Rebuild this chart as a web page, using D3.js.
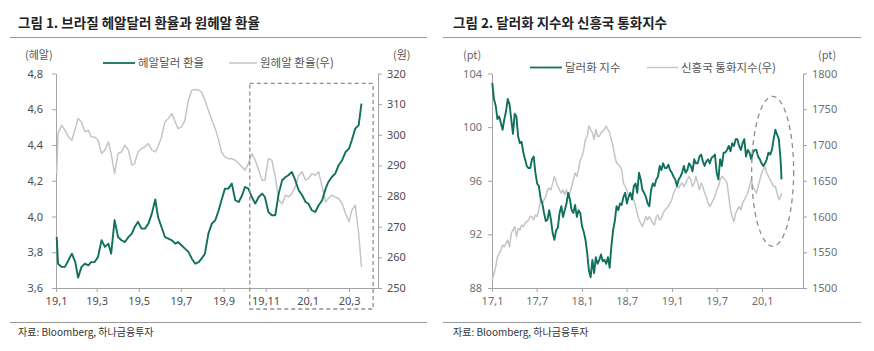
<!DOCTYPE html>
<html>
<head>
<meta charset="utf-8">
<script src="https://cdn.jsdelivr.net/npm/d3@7"></script>
<style>
  body { margin: 0; background: #fff; }
  svg text { font-family: "Noto Sans CJK KR", "Noto Sans", sans-serif; }
</style>
</head>
<body>
<svg id="chart" width="874" height="351"></svg>
<script>
// ---- 그림 1: 헤알달러 환율 (좌) / 원헤알 환율 (우) ----
const brlDates = [
  "2019-01-02","2019-01-04","2019-01-09","2019-01-14","2019-01-19","2019-01-24","2019-01-29",
  "2019-02-02","2019-02-07","2019-02-12","2019-02-17","2019-02-21","2019-02-26",
  "2019-03-03","2019-03-08","2019-03-13","2019-03-18","2019-03-22","2019-03-27",
  "2019-04-01","2019-04-06","2019-04-11","2019-04-16","2019-04-21","2019-04-25","2019-04-30",
  "2019-05-05","2019-05-10","2019-05-15","2019-05-20","2019-05-25","2019-05-29",
  "2019-06-03","2019-06-08","2019-06-13","2019-06-18","2019-06-23","2019-06-27",
  "2019-07-02","2019-07-07","2019-07-12","2019-07-17","2019-07-22","2019-07-27","2019-07-31",
  "2019-08-05","2019-08-10","2019-08-15","2019-08-20","2019-08-25","2019-08-29",
  "2019-09-03","2019-09-08","2019-09-13","2019-09-18","2019-09-23","2019-09-28",
  "2019-10-02","2019-10-07","2019-10-12","2019-10-17","2019-10-22","2019-10-27","2019-10-31",
  "2019-11-05","2019-11-10","2019-11-15","2019-11-20","2019-11-25","2019-11-30",
  "2019-12-04","2019-12-09","2019-12-14","2019-12-19","2019-12-24","2019-12-29",
  "2020-01-02","2020-01-07","2020-01-12","2020-01-17","2020-01-22","2020-01-27","2020-01-31",
  "2020-02-05","2020-02-10","2020-02-15","2020-02-20","2020-02-25",
  "2020-03-01","2020-03-05","2020-03-10","2020-03-15","2020-03-19"
];
const brlUsd = [
  3.885, 3.736, 3.718, 3.718, 3.755, 3.792, 3.745, 3.658, 3.718, 3.736,
  3.727, 3.745, 3.745, 3.774, 3.867, 3.830, 3.848, 3.792, 3.980, 3.885,
  3.867, 3.857, 3.885, 3.904, 3.941, 3.970, 3.932, 3.932, 3.960, 4.016,
  4.095, 3.997, 3.941, 3.885, 3.876, 3.867, 3.848, 3.857, 3.839, 3.820,
  3.802, 3.764, 3.736, 3.745, 3.764, 3.792, 3.904, 3.960, 3.979, 4.035,
  4.091, 4.156, 4.156, 4.184, 4.091, 4.081, 4.119, 4.165, 4.156, 4.109,
  4.072, 4.109, 4.128, 4.109, 4.025, 4.007, 4.007, 4.128, 4.203, 4.221,
  4.231, 4.249, 4.203, 4.147, 4.119, 4.081, 4.072, 4.035, 4.025, 4.063,
  4.091, 4.156, 4.193, 4.221, 4.240, 4.287, 4.315, 4.361, 4.380, 4.427,
  4.492, 4.511, 4.632
];
const krwBrl = [
  287.3, 300.4, 303.1, 301.5, 299.3, 298.2, 302.0, 305.3, 304.2, 301.0,
  301.5, 299.3, 299.3, 298.2, 293.9, 295.0, 297.7, 293.9, 287.3, 293.9,
  294.4, 296.6, 295.0, 290.1, 290.6, 294.4, 295.5, 296.1, 297.1, 295.0,
  294.4, 296.1, 299.3, 304.2, 305.3, 306.9, 304.2, 302.0, 302.6, 304.8,
  311.3, 314.6, 314.8, 314.6, 314.0, 311.3, 308.0, 304.8, 302.0, 298.2,
  294.4, 292.8, 292.2, 292.2, 291.7, 290.6, 289.5, 288.4, 290.6, 293.9,
  291.7, 288.4, 285.2, 285.2, 292.2, 291.7, 286.3, 278.6, 277.5, 280.3,
  279.7, 280.8, 283.0, 286.8, 287.9, 285.2, 285.7, 287.3, 286.8, 287.9,
  283.0, 278.1, 279.2, 280.3, 279.7, 279.2, 277.5, 274.3, 271.6, 275.4,
  277.0, 267.7, 256.9
];
const brlTickDates = ["2019-01-01","2019-03-01","2019-05-01","2019-07-01","2019-09-01","2019-11-01","2020-01-01","2020-03-01"];
const brlTickLabels = ["19,1","19,3","19,5","19,7","19,9","19,11","20,1","20,3"];
const brlTicks = [3.6, 3.8, 4.0, 4.2, 4.4, 4.6, 4.8];
const krwTicks = [250, 260, 270, 280, 290, 300, 310, 320];

// ---- 그림 2: 달러화 지수 (좌) / 신흥국 통화지수 (우) ----
const dxyDates = [
  "2017-01-02","2017-01-09","2017-01-16","2017-01-23","2017-01-30",
  "2017-02-06","2017-02-13","2017-02-20","2017-02-27",
  "2017-03-06","2017-03-13","2017-03-20","2017-03-27",
  "2017-04-03","2017-04-10","2017-04-17","2017-04-24",
  "2017-05-01","2017-05-08","2017-05-15","2017-05-22","2017-05-29",
  "2017-06-05","2017-06-12","2017-06-19","2017-06-26",
  "2017-07-03","2017-07-10","2017-07-17","2017-07-24","2017-07-31",
  "2017-08-07","2017-08-14","2017-08-21","2017-08-28",
  "2017-09-04","2017-09-11","2017-09-18","2017-09-25",
  "2017-10-02","2017-10-09","2017-10-16","2017-10-23","2017-10-30",
  "2017-11-06","2017-11-13","2017-11-20","2017-11-27",
  "2017-12-04","2017-12-11","2017-12-18","2017-12-25",
  "2018-01-01","2018-01-08","2018-01-15","2018-01-22","2018-01-29",
  "2018-02-05","2018-02-12","2018-02-19","2018-02-26",
  "2018-03-05","2018-03-12","2018-03-19","2018-03-26",
  "2018-04-02","2018-04-09","2018-04-16","2018-04-23","2018-04-30",
  "2018-05-07","2018-05-14","2018-05-21","2018-05-28",
  "2018-06-04","2018-06-11","2018-06-18","2018-06-25",
  "2018-07-02","2018-07-09","2018-07-16","2018-07-23","2018-07-30",
  "2018-08-06","2018-08-13","2018-08-20","2018-08-27",
  "2018-09-03","2018-09-10","2018-09-17","2018-09-24",
  "2018-10-01","2018-10-08","2018-10-15","2018-10-22","2018-10-29",
  "2018-11-05","2018-11-12","2018-11-19","2018-11-26",
  "2018-12-03","2018-12-10","2018-12-17","2018-12-24","2018-12-31",
  "2019-01-07","2019-01-14","2019-01-21","2019-01-28",
  "2019-02-04","2019-02-11","2019-02-18","2019-02-25",
  "2019-03-04","2019-03-11","2019-03-18","2019-03-25",
  "2019-04-01","2019-04-08","2019-04-15","2019-04-22","2019-04-29",
  "2019-05-06","2019-05-13","2019-05-20","2019-05-27",
  "2019-06-03","2019-06-10","2019-06-17","2019-06-24",
  "2019-07-01","2019-07-08","2019-07-15","2019-07-22","2019-07-29",
  "2019-08-05","2019-08-12","2019-08-19","2019-08-26",
  "2019-09-02","2019-09-09","2019-09-16","2019-09-23","2019-09-30",
  "2019-10-07","2019-10-14","2019-10-21","2019-10-28",
  "2019-11-04","2019-11-11","2019-11-18","2019-11-25",
  "2019-12-02","2019-12-09","2019-12-16","2019-12-23","2019-12-30",
  "2020-01-06","2020-01-13","2020-01-20","2020-01-27",
  "2020-02-03","2020-02-10","2020-02-17","2020-02-24",
  "2020-03-02","2020-03-09","2020-03-16","2020-03-20"
];
const dxyIndex = [
  103.3, 102.1, 101.6, 100.6, 100.8, 100.3, 99.8, 100.6, 101.2, 102.1,
  101.7, 100.6, 99.5, 101.0, 100.8, 99.3, 98.8, 98.9, 98.1, 97.6,
  97.1, 96.95, 96.95, 97.6, 97.8, 96.6, 95.8, 95.6, 94.7, 94.3,
  93.6, 93.0, 93.1, 93.8, 93.1, 92.1, 91.6, 92.3, 92.5, 93.6,
  94.1, 93.3, 93.8, 94.3, 95.1, 94.6, 93.8, 93.6, 94.2, 93.3,
  93.8, 93.6, 92.6, 92.2, 91.6, 90.6, 89.3, 88.8, 90.1, 89.1,
  90.3, 89.8, 90.1, 90.5, 90.0, 90.1, 89.8, 90.3, 89.5, 91.1,
  92.3, 93.0, 94.1, 93.8, 94.3, 94.2, 94.8, 95.1, 94.3, 94.8,
  95.1, 94.6, 95.6, 95.8, 95.1, 96.6, 96.1, 95.3, 95.1, 94.8,
  94.3, 94.1, 95.3, 95.8, 95.6, 96.1, 96.3, 97.1, 96.8, 97.3,
  96.95, 96.95, 97.2, 96.8, 96.6, 96.3, 96.1, 95.6, 96.1, 96.3,
  96.6, 97.1, 96.6, 96.8, 97.3, 97.1, 96.7, 97.6, 97.3, 97.3,
  97.8, 97.95, 97.45, 97.1, 97.45, 97.6, 97.3, 97.7, 97.8, 97.95,
  96.6, 96.1, 97.6, 97.1, 98.1, 98.1, 98.3, 98.6, 98.2, 98.8,
  98.6, 99.1, 99.1, 98.6, 98.3, 98.8, 99.1, 97.8, 98.3, 98.1,
  97.6, 98.1, 98.3, 98.3, 97.8, 97.6, 97.3, 97.1, 97.3, 97.6,
  98.1, 97.95, 98.3, 99.1, 99.8, 99.45, 99.1, 97.6, 96.1
];
const emCurrency = [
  1510.8, 1520, 1529.5, 1543.6, 1548.3, 1553, 1560, 1557.7, 1562.3, 1567,
  1557.7, 1576.4, 1581, 1585.8, 1571.7, 1583.4, 1581, 1588, 1585.8, 1590.5,
  1592.8, 1595.2, 1600, 1600, 1595.2, 1602.2, 1600, 1609.2, 1623.3, 1618.6,
  1623.3, 1628, 1637.3, 1639.7, 1637.3, 1646.7, 1656.1, 1649, 1642, 1637.3,
  1632.7, 1637.3, 1630.3, 1637.3, 1628, 1632.7, 1642, 1651.4, 1660.8, 1656.1,
  1665.5, 1679.5, 1684.2, 1693.6, 1707.7, 1712.3, 1726.4, 1721.7, 1717, 1707.7,
  1721.7, 1712.3, 1712.3, 1717, 1719.4, 1721.7, 1726.4, 1721.7, 1717, 1707.7,
  1698.3, 1684.2, 1674.8, 1672.5, 1670.2, 1665.5, 1646.7, 1642, 1637.3, 1628,
  1630.3, 1628, 1623.3, 1613.9, 1604.5, 1595.2, 1590.5, 1585.8, 1592.8, 1600,
  1595.2, 1600, 1595.2, 1590.5, 1588, 1600, 1602.2, 1595.2, 1597.5, 1604.5,
  1609.2, 1611.6, 1613.9, 1618.6, 1623.3, 1632.7, 1637.3, 1642, 1639.7, 1644.4,
  1646.7, 1642, 1646.7, 1651.4, 1656.1, 1651.4, 1642, 1646.7, 1656.1, 1646.7,
  1637.3, 1646.7, 1642, 1632.7, 1628, 1618.6, 1613.9, 1618.6, 1623.3, 1628,
  1637.3, 1642, 1651.4, 1656.1, 1653.8, 1651.4, 1646.7, 1628, 1609.2, 1600,
  1592.8, 1604.5, 1609.2, 1613.9, 1609.2, 1618.6, 1623.3, 1628, 1632.7, 1642,
  1651.4, 1642, 1637.3, 1632.7, 1642, 1651.4, 1660.8, 1665.5, 1670, 1660.8,
  1656.1, 1651.4, 1646.7, 1642, 1642, 1632.7, 1623.3, 1628, 1632.7
];
const dxyTickDates = ["2017-01-01","2017-07-01","2018-01-01","2018-07-01","2019-01-01","2019-07-01","2020-01-01"];
const dxyTickLabels = ["17,1","17,7","18,1","18,7","19,1","19,7","20,1"];
const dxyTicks = [88, 92, 96, 100, 104];
const emTicks = [1500, 1550, 1600, 1650, 1700, 1750, 1800];

const parse = d3.timeParse("%Y-%m-%d");
const svg = d3.select("#chart");
const teal = "#10705d";
const grey = "#c5c5c5";
const axisColor = "#a3a3a3";

function drawPanel(p) {
    const x = d3.scaleTime()
        .domain([parse(p.start), parse(p.end)])
        .range([p.left, p.right]);
    const yL = d3.scaleLinear().domain(p.leftDomain).range([288, 73.5]);
    const yR = d3.scaleLinear().domain(p.rightDomain).range([288, 73.5]);

    const fmtComma = d => d3.format(p.leftFormat)(d).replace(".", ",");

    const gx = svg.append("g")
        .attr("transform", "translate(0,288)")
        .call(d3.axisBottom(x)
            .tickValues(p.tickDates.map(parse))
            .tickFormat((d, i) => p.tickLabels[i])
            .tickSize(4).tickSizeOuter(0).tickPadding(5));
    const gl = svg.append("g")
        .attr("transform", "translate(" + p.left + ",0)")
        .call(d3.axisLeft(yL).tickValues(p.leftTicks).tickFormat(fmtComma)
            .tickSize(4).tickSizeOuter(0).tickPadding(p.padL));
    const gr = svg.append("g")
        .attr("transform", "translate(" + p.right + ",0)")
        .call(d3.axisRight(yR).tickValues(p.rightTicks).tickFormat(d3.format("d"))
            .tickSize(4).tickSizeOuter(0).tickPadding(5));

    [gx, gl, gr].forEach(g => {
        g.select(".domain").attr("stroke", axisColor);
        g.selectAll(".tick line").attr("stroke", axisColor);
        g.selectAll("text")
            .style("font-family", "'Noto Sans', sans-serif")
            .style("font-size", "11px")
            .attr("fill", p.labelColor);
    });

    const dates = p.dates.map(parse);
    const lineR = d3.line().x((d, i) => x(dates[i])).y(d => yR(d));
    const lineL = d3.line().x((d, i) => x(dates[i])).y(d => yL(d));

    svg.append("path")
        .datum(p.rightValues)
        .attr("d", lineR)
        .attr("fill", "none")
        .attr("stroke", grey)
        .attr("stroke-width", 1.5)
        .attr("stroke-linejoin", "round");
    svg.append("path")
        .datum(p.leftValues)
        .attr("d", lineL)
        .attr("fill", "none")
        .attr("stroke", teal)
        .attr("stroke-width", 1.9)
        .attr("stroke-linejoin", "round");

    return {x, yL, yR};
}

function addText(x, y, txt, size, color, weight) {
    return svg.append("text")
        .attr("x", x).attr("y", y)
        .attr("font-size", size)
        .attr("fill", color)
        .attr("font-weight", weight || "normal")
        .text(txt);
}

function addLegend(x, y, w, color, label, width) {
    svg.append("line")
        .attr("x1", x).attr("x2", x + w)
        .attr("y1", y).attr("y2", y)
        .attr("stroke", color).attr("stroke-width", width);
    addText(x + w + 3, y + 4, label, 11.5, "#555");
}

// ----- panel 1 -----
const p1 = drawPanel({
    start: "2019-01-01", end: "2020-04-12", left: 56, right: 378,
    leftDomain: [3.6, 4.8], rightDomain: [250, 320],
    leftTicks: brlTicks, rightTicks: krwTicks, leftFormat: ".1f", padL: 9,
    tickDates: brlTickDates, tickLabels: brlTickLabels,
    dates: brlDates, leftValues: brlUsd, rightValues: krwBrl,
    labelColor: "#4d4d4d"
});

// dashed box around the recent period
const bx0 = p1.x(parse("2019-10-09")), bx1 = p1.x(parse("2020-04-05"));
svg.append("rect")
    .attr("x", bx0).attr("y", p1.yL(4.745))
    .attr("width", bx1 - bx0).attr("height", 309 - p1.yL(4.745))
    .attr("fill", "none").attr("stroke", "#8e8e8e")
    .attr("stroke-width", 1.3).attr("stroke-dasharray", "4,3");

// ----- panel 2 -----
const p2 = drawPanel({
    start: "2017-01-01", end: "2020-06-15", left: 492, right: 803,
    leftDomain: [88, 104], rightDomain: [1500, 1800],
    leftTicks: dxyTicks, rightTicks: emTicks, leftFormat: "d", padL: 6,
    tickDates: dxyTickDates, tickLabels: dxyTickLabels,
    dates: dxyDates, leftValues: dxyIndex, rightValues: emCurrency,
    labelColor: "#707070"
});

svg.append("ellipse")
    .attr("cx", p2.x(parse("2020-02-13")))
    .attr("cy", p2.yL(96.7))
    .attr("rx", 21).attr("ry", 75)
    .attr("fill", "none").attr("stroke", "#8e8e8e")
    .attr("stroke-width", 1.3).attr("stroke-dasharray", "5,4");

// titles and rules
addText(18, 28, "그림 1. 브라질 헤알달러 환율과 원헤알 환율", 13.5, "#222", "bold");
addText(453, 28, "그림 2. 달러화 지수와 신흥국 통화지수", 13.5, "#222", "bold");
[[10, 427], [443, 861]].forEach(([a, b]) => {
    svg.append("line").attr("x1", a).attr("x2", b).attr("y1", 37.5).attr("y2", 37.5)
        .attr("stroke", "#9a9a9a");
    svg.append("line").attr("x1", a).attr("x2", b).attr("y1", 322.5).attr("y2", 322.5)
        .attr("stroke", "#9a9a9a");
});

// unit labels
addText(25, 59, "(헤알)", 11, "#555");
addText(393, 59, "(원)", 11, "#555");
addText(463, 59, "(pt)", 11, "#666");
addText(818, 59, "(pt)", 11, "#666");

// legends
addLegend(103, 63, 32, teal, "헤알달러 환율", 1.8);
addLegend(229, 63, 28, grey, "원헤알 환율(우)", 1.5);
addLegend(530, 67.5, 32, teal, "달러화 지수", 1.8);
addLegend(647, 67.5, 31, grey, "신흥국 통화지수(우)", 1.5);

// sources
addText(18, 336, "자료: Bloomberg, 하나금융투자", 10, "#333");
addText(453, 336, "자료: Bloomberg, 하나금융투자", 10, "#333");
</script>
</body>
</html>
